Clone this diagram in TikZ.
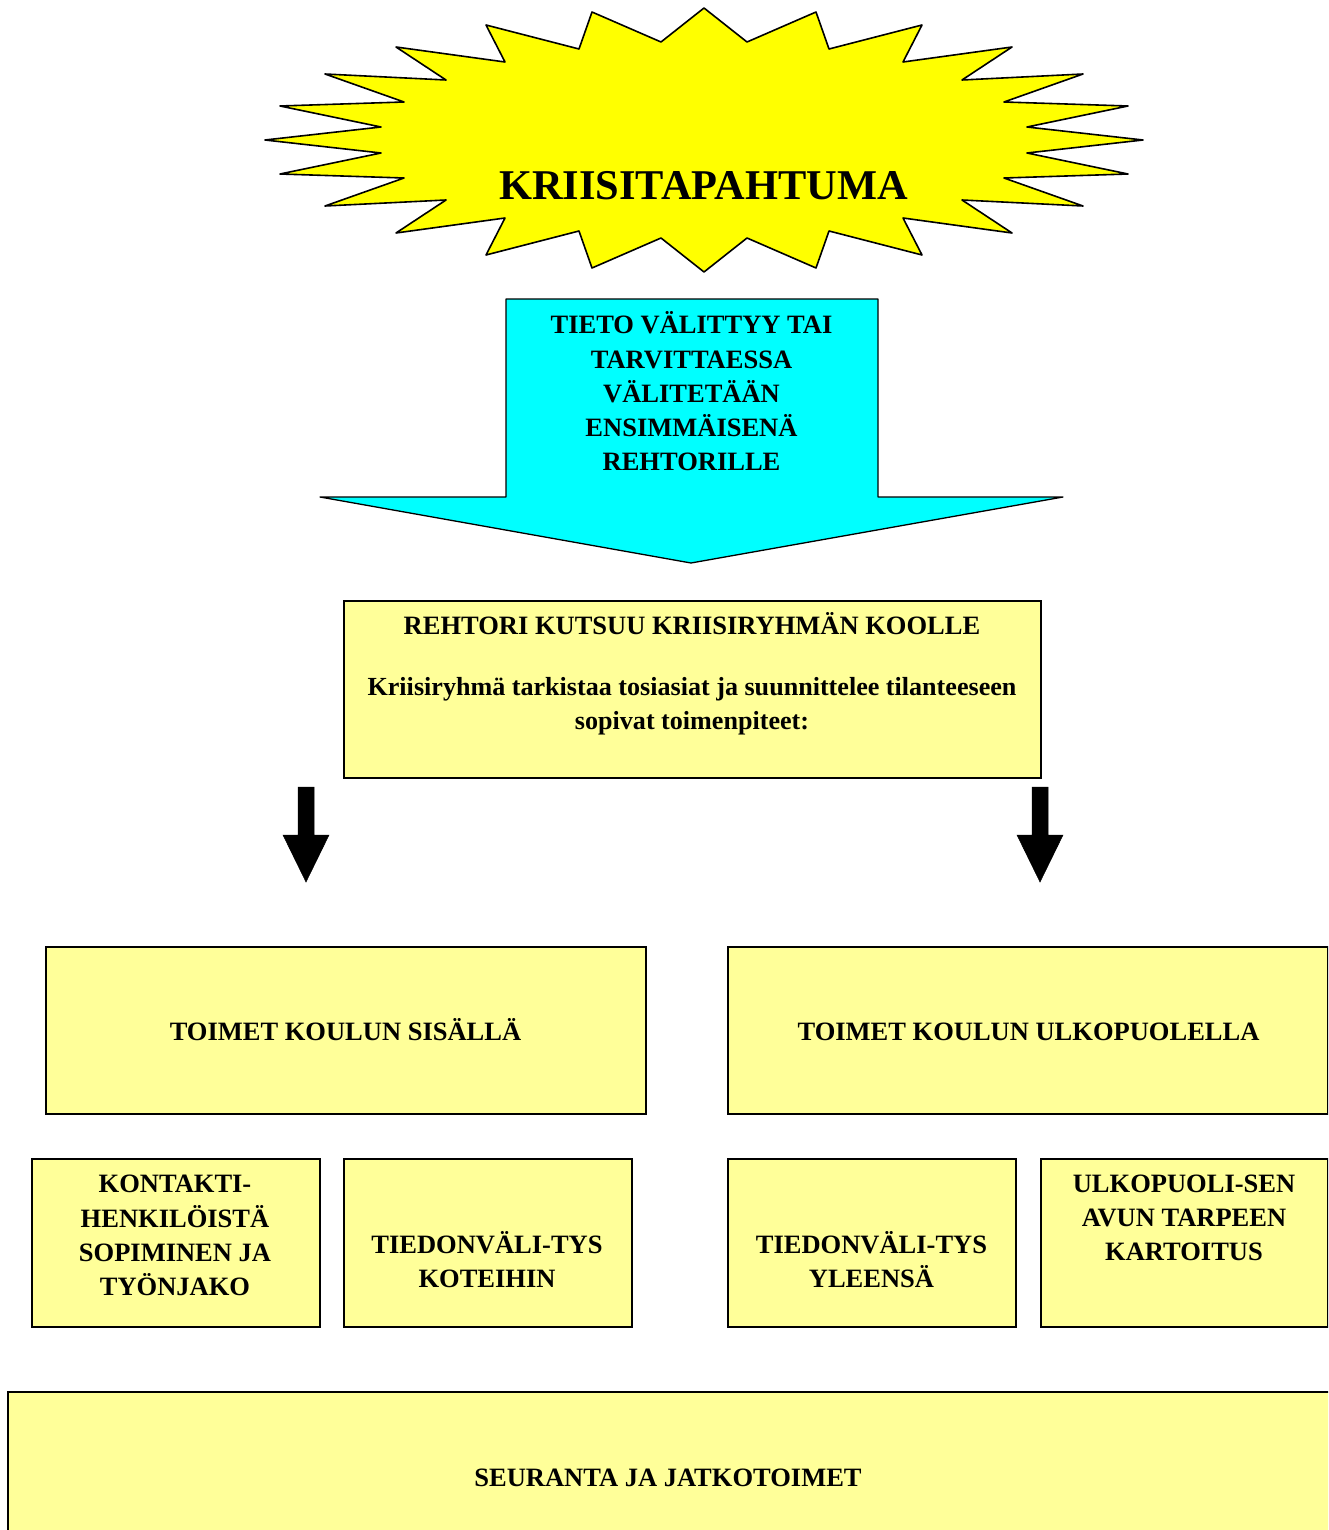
\documentclass[tikz,border=0pt]{standalone}
\usepackage{fontspec}
\setmainfont{Liberation Serif}
\definecolor{starY}{HTML}{FFFF00}
\definecolor{cyanA}{HTML}{00FFFF}
\definecolor{paleY}{HTML}{FFFF99}
\begin{document}
\begin{tikzpicture}[x=1pt,y=-1pt,
  box/.style={draw=black, line width=1.5pt, fill=paleY, inner sep=0pt, anchor=north west},
  txt/.style={font=\fontsize{26.5}{34.25}\selectfont\bfseries, align=center, inner sep=0pt},
  blockarrow/.style={fill=black, draw=black, line width=0.5pt, line join=miter},
]
\useasboundingbox (0,0) rectangle (1328,1530);
\clip (0,0) rectangle (1328,1530);

% star
\draw[fill=starY, line width=1.6pt, line join=round]
 (704,8) -- (661,42) -- (592,12) -- (579,49) -- (486,25) -- (505,62) -- (396,47) -- (446,80)
 -- (325,74) -- (404,102) -- (280,106) -- (381,127) -- (265,140) -- (381,153) -- (280,174)
 -- (404,178) -- (325,206) -- (446,200) -- (396,233) -- (505,218) -- (486,255) -- (579,231)
 -- (592,268) -- (661,238) -- (704,272) -- (747,238) -- (816,268) -- (829,231) -- (922,255)
 -- (903,218) -- (1012,233) -- (962,200) -- (1083,206) -- (1004,178) -- (1128,174)
 -- (1027,153) -- (1143,140) -- (1027,127) -- (1128,106) -- (1004,102) -- (1083,74)
 -- (962,80) -- (1012,47) -- (903,62) -- (922,25) -- (829,49) -- (816,12) -- (747,42) -- cycle;
\node[font=\fontsize{42.4}{50}\selectfont\bfseries, inner sep=0pt] (kriisi) at (703.5,186) {KRIISITAPAHTUMA};

% cyan arrow
\draw[fill=cyanA, line width=1.3pt, line join=round]
 (506,299) -- (878,299) -- (878,497) -- (1063,497) -- (691,563) -- (320,497) -- (506,497) -- cycle;
\node[txt] (tieto) at (691.5,391.5) {TIETO VÄLITTYY TAI\\TARVITTAESSA\\VÄLITETÄÄN\\ENSIMMÄISENÄ\\REHTORILLE};

% rehtori box
\node[box, minimum width=697pt, minimum height=177pt] (rehtori) at (343,600) {};
\node[txt] (rehtoriT) at (692,623.6) {REHTORI KUTSUU KRIISIRYHMÄN KOOLLE};
\node[txt, font=\fontsize{26.1}{34}\selectfont\bfseries] (kriisiryhma) at (692,706) {Kriisiryhmä tarkistaa tosiasiat ja suunnittelee tilanteeseen\\sopivat toimenpiteet:};

% black arrows
\draw[blockarrow] (298,787) -- (314,787) -- (314,835) -- (329,835) -- (306,882) -- (283,835) -- (298,835) -- cycle;
\draw[blockarrow] (1032,787) -- (1048,787) -- (1048,835) -- (1063,835) -- (1040,882) -- (1017,835) -- (1032,835) -- cycle;

% middle boxes
\node[box, minimum width=600pt, minimum height=167pt] (sis) at (45,946) {};
\node[txt] (sisT) at (345.5,1029.6) {TOIMET KOULUN SISÄLLÄ};
\node[box, minimum width=600pt, minimum height=167pt] (ulko) at (727,946) {};
\node[txt] (ulkoT) at (1028.5,1032) {TOIMET KOULUN ULKOPUOLELLA};

% small boxes
\node[box, minimum width=288pt, minimum height=168pt] (kont) at (31,1158) {};
\node[txt] (kontT) at (175,1235.5) {KONTAKTI-\\HENKILÖISTÄ\\SOPIMINEN JA\\TYÖNJAKO};
\node[box, minimum width=288pt, minimum height=168pt] (kotei) at (343,1158) {};
\node[txt] (koteiT) at (487,1259.6) {TIEDONVÄLI-TYS\\KOTEIHIN};
\node[box, minimum width=288pt, minimum height=168pt] (yleen) at (727,1158) {};
\node[txt] (yleenT) at (871.5,1259.6) {TIEDONVÄLI-TYS\\YLEENSÄ};
\node[box, minimum width=287pt, minimum height=168pt] (ulkap) at (1040,1158) {};
\node[txt] (ulkapT) at (1184,1218) {ULKOPUOLI-SEN\\AVUN TARPEEN\\KARTOITUS};

% bottom box
\node[box, minimum width=1340pt, minimum height=170pt] (seur) at (7,1391) {};
\node[txt] (seurT) at (668,1478) {SEURANTA JA JATKOTOIMET};
\end{tikzpicture}
\end{document}
